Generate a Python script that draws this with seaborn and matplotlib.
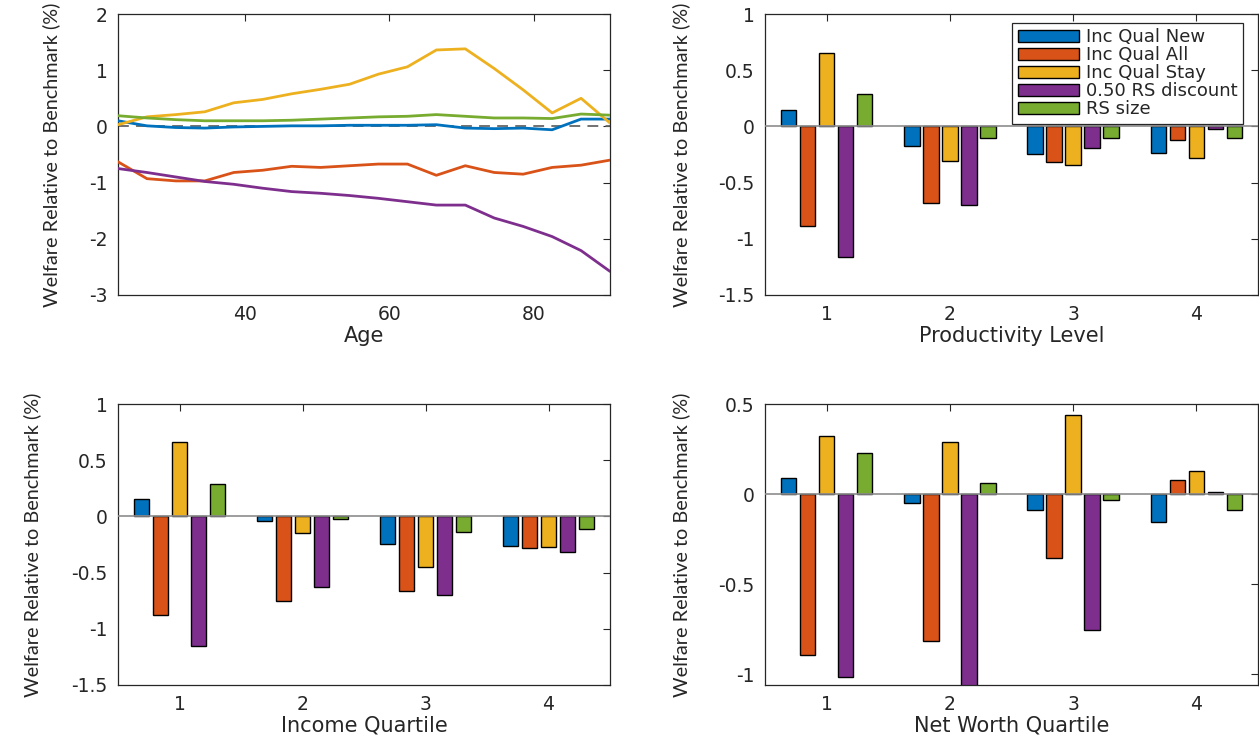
import matplotlib
matplotlib.use("Agg")
import matplotlib.pyplot as plt
import numpy as np
import pandas as pd
import seaborn as sns
from matplotlib import font_manager

# ---------------------------------------------------------------- data
series = ["Inc Qual New", "Inc Qual All", "Inc Qual Stay", "0.50 RS discount", "RS size"]
colors = ["#0072BD", "#D95319", "#EDB120", "#7E2F8E", "#77AC30"]

ages = [22.5, 26.5, 30.5, 34.5, 38.5, 42.5, 46.5, 50.5, 54.5,
        58.5, 62.5, 66.5, 70.5, 74.5, 78.5, 82.5, 86.5, 90.5]
age_inc_qual_new = [0.10, 0.01, -0.02, -0.03, -0.01, 0.00, 0.01, 0.01, 0.02,
                    0.02, 0.02, 0.03, -0.03, -0.04, -0.03, -0.06, 0.13, 0.13]
age_inc_qual_all = [-0.63, -0.93, -0.97, -0.97, -0.82, -0.78, -0.71, -0.73, -0.70,
                    -0.67, -0.67, -0.87, -0.70, -0.82, -0.85, -0.73, -0.69, -0.60]
age_inc_qual_stay = [0.03, 0.17, 0.21, 0.26, 0.42, 0.48, 0.58, 0.66, 0.75,
                     0.93, 1.06, 1.36, 1.38, 1.03, 0.65, 0.24, 0.50, 0.06]
age_rs_discount = [-0.75, -0.82, -0.90, -0.98, -1.03, -1.10, -1.16, -1.19, -1.23,
                   -1.28, -1.34, -1.40, -1.40, -1.63, -1.78, -1.96, -2.21, -2.58]
age_rs_size = [0.19, 0.15, 0.12, 0.10, 0.10, 0.10, 0.11, 0.13, 0.15,
               0.17, 0.18, 0.21, 0.18, 0.15, 0.15, 0.14, 0.22, 0.20]

groups = ["1", "2", "3", "4"]

prod_inc_qual_new = [0.15, -0.175, -0.25, -0.234]
prod_inc_qual_all = [-0.885, -0.68, -0.32, -0.118]
prod_inc_qual_stay = [0.655, -0.31, -0.34, -0.28]
prod_rs_discount = [-1.16, -0.695, -0.19, -0.02]
prod_rs_size = [0.285, -0.10, -0.10, -0.10]

inc_inc_qual_new = [0.157, -0.044, -0.243, -0.263]
inc_inc_qual_all = [-0.88, -0.754, -0.663, -0.278]
inc_inc_qual_stay = [0.66, -0.145, -0.447, -0.275]
inc_rs_discount = [-1.157, -0.624, -0.695, -0.314]
inc_rs_size = [0.287, -0.027, -0.142, -0.109]

nw_inc_qual_new = [0.089, -0.048, -0.087, -0.156]
nw_inc_qual_all = [-0.893, -0.817, -0.356, 0.078]
nw_inc_qual_stay = [0.32, 0.287, 0.44, 0.128]
nw_rs_discount = [-1.017, -1.12, -0.754, 0.013]
nw_rs_size = [0.228, 0.061, -0.031, -0.087]

# ---------------------------------------------------------------- style
sns.set_theme(style="white")
plt.rcParams["font.family"] = ["DejaVu Sans"]
plt.rcParams["axes.unicode_minus"] = False

installed = {f.name for f in font_manager.fontManager.ttflist}
if "Liberation Sans Narrow" in installed:
    label_font, label_size = "Liberation Sans Narrow", 16.5
elif "Lato" in installed:
    label_font, label_size = "Lato", 14.3
else:
    label_font, label_size = "DejaVu Sans", 12.5

YLABEL = "Welfare Relative to Benchmark (%)"
FRAME = "#262626"


def long_frame(x_values, x_name, columns):
    rows = []
    for name, vals in zip(series, columns):
        for x, v in zip(x_values, vals):
            rows.append({x_name: x, "series": name, "value": v})
    return pd.DataFrame(rows)


def style_axes(ax, xlabel, label_x):
    for sp in ax.spines.values():
        sp.set_color(FRAME)
        sp.set_linewidth(0.9)
    ax.tick_params(direction="in", top=True, right=True, length=5, width=0.8,
                   color=FRAME, labelcolor=FRAME, labelsize=13.5, pad=7.5)
    ax.set_xlabel(xlabel, fontsize=15, color=FRAME)
    ax.xaxis.set_label_coords(0.5, -0.11)
    ax.set_ylabel(YLABEL, fontsize=label_size, color=FRAME, family=label_font)
    ax.yaxis.set_label_coords(label_x, 0.5)


def fmt(v):
    return f"{v:g}"


fig = plt.figure(figsize=(12.59, 7.40), dpi=100)
W, H = 1259, 740


def add_axes(left, top, right, bottom):
    return fig.add_axes([left / W, 1 - bottom / H, (right - left) / W, (bottom - top) / H])


ax_age = add_axes(118, 14, 610, 295)
ax_prod = add_axes(765, 14, 1258, 295)
ax_inc = add_axes(118, 404, 610, 685)
ax_nw = add_axes(765, 404, 1258, 685)

# ---------------------------------------------------------------- welfare by age
df_age = long_frame(ages, "Age",
                    [age_inc_qual_new, age_inc_qual_all, age_inc_qual_stay,
                     age_rs_discount, age_rs_size])
ax_age.axhline(0, color="#666666", lw=1.3, ls=(0, (6, 4)), zorder=1)
sns.lineplot(data=df_age, x="Age", y="value", hue="series", hue_order=series,
             palette=colors, linewidth=2.0, legend=False, ax=ax_age, zorder=3)
ax_age.set_xlim(ages[0], ages[-1])
ax_age.set_ylim(-3, 2)
ax_age.set_xticks([40, 60, 80])
ax_age.set_yticks([-3, -2, -1, 0, 1, 2])
ax_age.set_yticklabels([fmt(v) for v in [-3, -2, -1, 0, 1, 2]])
style_axes(ax_age, "Age", -0.118)


# ---------------------------------------------------------------- grouped bars
def bar_panel(ax, columns, xlabel, ylim, yticks, label_x, legend=False):
    df = long_frame(groups, "group", columns)
    sns.barplot(data=df, x="group", y="value", hue="series", hue_order=series,
                palette=colors, saturation=1, width=0.77, gap=0.175,
                edgecolor="black", linewidth=1.0, errorbar=None,
                legend=legend, ax=ax, zorder=2)
    ax.axhline(0, color="#8c8c8c", lw=1.2, zorder=3)
    ax.set_xlim(-0.5, 3.5)
    ax.set_ylim(*ylim)
    ax.set_yticks(yticks)
    ax.set_yticklabels([fmt(v) for v in yticks])
    ax.set_xticks(range(len(groups)))
    ax.set_xticklabels(groups)
    style_axes(ax, xlabel, label_x)
    if legend:
        handles, labels = ax.get_legend_handles_labels()
        leg = ax.legend(handles, labels, loc="upper right",
                        bbox_to_anchor=(0.970, 0.968), borderaxespad=0,
                        fontsize=13, frameon=True, fancybox=False,
                        edgecolor=FRAME, framealpha=1, handlelength=3.4,
                        handleheight=0.7, handletextpad=0.4,
                        labelspacing=0.0, borderpad=0.3)
        leg.get_frame().set_linewidth(0.9)
        for t in leg.get_texts():
            t.set_color(FRAME)


bar_panel(ax_prod,
          [prod_inc_qual_new, prod_inc_qual_all, prod_inc_qual_stay,
           prod_rs_discount, prod_rs_size],
          "Productivity Level", (-1.5, 1), [-1.5, -1, -0.5, 0, 0.5, 1], -0.152,
          legend=True)
bar_panel(ax_inc,
          [inc_inc_qual_new, inc_inc_qual_all, inc_inc_qual_stay,
           inc_rs_discount, inc_rs_size],
          "Income Quartile", (-1.5, 1), [-1.5, -1, -0.5, 0, 0.5, 1], -0.157)
bar_panel(ax_nw,
          [nw_inc_qual_new, nw_inc_qual_all, nw_inc_qual_stay,
           nw_rs_discount, nw_rs_size],
          "Net Worth Quartile", (-1.06, 0.5), [-1, -0.5, 0, 0.5], -0.152)

fig.savefig("out.png", dpi=100)
